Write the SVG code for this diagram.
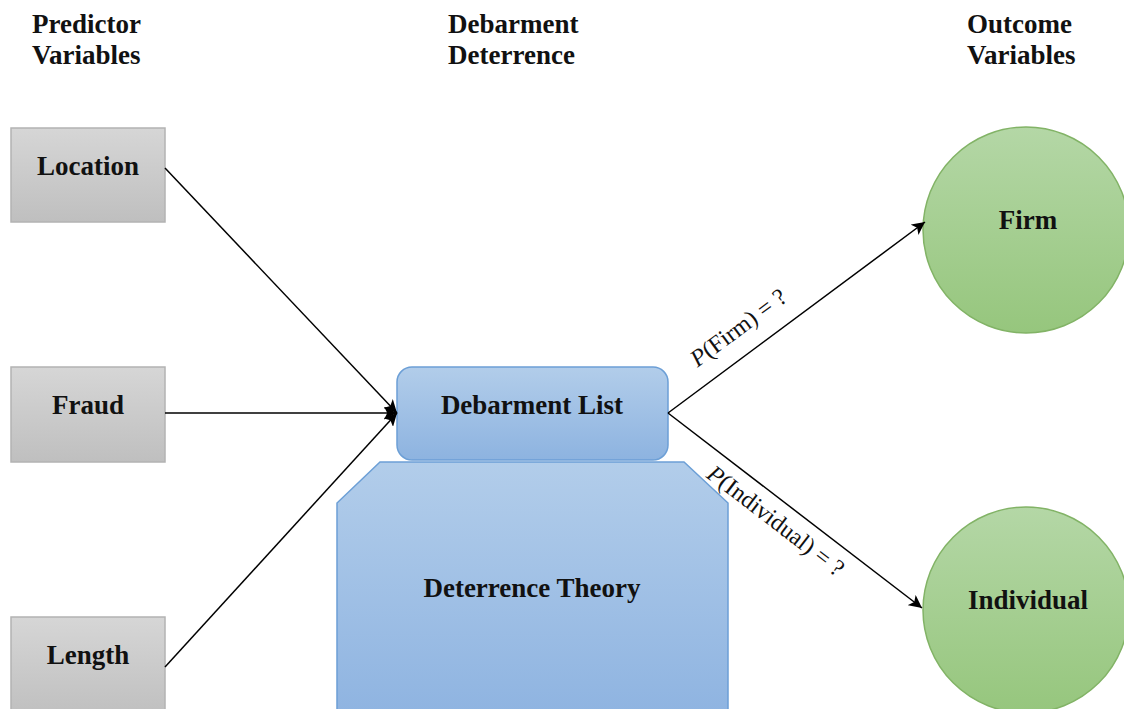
<svg xmlns="http://www.w3.org/2000/svg" width="1124" height="709" viewBox="0 0 1124 709">
<defs>
<linearGradient id="gGray" x1="0" y1="0" x2="0" y2="1"><stop offset="0" stop-color="#d6d6d6"/><stop offset="1" stop-color="#bfbfbf"/></linearGradient>
<linearGradient id="gBlue" x1="0" y1="0" x2="0" y2="1"><stop offset="0" stop-color="#b2cdea"/><stop offset="1" stop-color="#8db3e0"/></linearGradient>
<linearGradient id="gBlue2" x1="0" y1="0" x2="0" y2="1"><stop offset="0" stop-color="#b2cdea"/><stop offset="1" stop-color="#8fb4e1"/></linearGradient>
<linearGradient id="gGreen" x1="0" y1="0" x2="0" y2="1"><stop offset="0" stop-color="#b4d7a6"/><stop offset="1" stop-color="#96c67d"/></linearGradient>
<marker id="arr" viewBox="0 0 10 10" refX="10" refY="5" markerWidth="13" markerHeight="13" markerUnits="userSpaceOnUse" orient="auto"><path d="M0,0 L10,5 L0,10 L2.5,5 Z" fill="#000"/></marker>
</defs>
<style>
.hdr{font-family:"Liberation Serif",serif;font-weight:bold;font-size:27px;fill:#111}
.lbl{font-family:"Liberation Serif",serif;font-weight:bold;font-size:27px;fill:#111;text-anchor:middle}
.edge{font-family:"Liberation Serif",serif;font-size:24px;fill:#111;text-anchor:middle}
.gray{fill:url(#gGray);stroke:#b3b3b3;stroke-width:1.5}
.blue{stroke:#6c9fd6;stroke-width:1.5}
.green{fill:url(#gGreen);stroke:#82b366;stroke-width:1.5}
.con{stroke:#000;stroke-width:1.5;fill:none;marker-end:url(#arr)}
</style>
<rect width="1124" height="709" fill="#fff"/>
<g id="headers">
<text class="hdr" x="32" y="33">Predictor</text>
<text class="hdr" x="32" y="64">Variables</text>
<text class="hdr" x="448" y="33">Debarment</text>
<text class="hdr" x="448" y="64">Deterrence</text>
<text class="hdr" x="967" y="33">Outcome</text>
<text class="hdr" x="967" y="64">Variables</text>
</g>
<g id="deterrence-theory">
<path class="blue" fill="url(#gBlue2)" d="M380,462 L684,462 L728,503 L728,712 L337,712 L337,503 Z"/>
<text class="lbl" x="532" y="597">Deterrence Theory</text>
</g>
<g id="debarment-list">
<rect class="blue" fill="url(#gBlue)" x="397" y="367" width="271" height="93" rx="15"/>
<text class="lbl" x="532" y="414">Debarment List</text>
</g>
<g id="location">
<rect class="gray" x="11" y="128" width="154" height="94"/>
<text class="lbl" x="88" y="175">Location</text>
</g>
<g id="fraud">
<rect class="gray" x="11" y="367" width="154" height="95"/>
<text class="lbl" x="88" y="414">Fraud</text>
</g>
<g id="length">
<rect class="gray" x="11" y="617" width="154" height="100"/>
<text class="lbl" x="88" y="664">Length</text>
</g>
<g id="firm">
<circle class="green" cx="1026" cy="230" r="103"/>
<text class="lbl" x="1028" y="229">Firm</text>
</g>
<g id="individual">
<circle class="green" cx="1026" cy="610" r="103"/>
<text class="lbl" x="1028" y="609">Individual</text>
</g>
<g id="connectors">
<line class="con" x1="165" y1="168" x2="397" y2="413"/>
<line class="con" x1="165" y1="413" x2="397" y2="413"/>
<line class="con" x1="165" y1="667" x2="397" y2="413"/>
<line class="con" x1="668" y1="413" x2="925" y2="222"/>
<line class="con" x1="668" y1="413" x2="922" y2="608"/>
<text class="edge" transform="translate(743,334) rotate(-36.6)"><tspan font-style="italic">P</tspan>(Firm) = ?</text>
<text class="edge" transform="translate(771,527) rotate(37.5)"><tspan font-style="italic">P</tspan>(Individual) = ?</text>
</g>
</svg>
